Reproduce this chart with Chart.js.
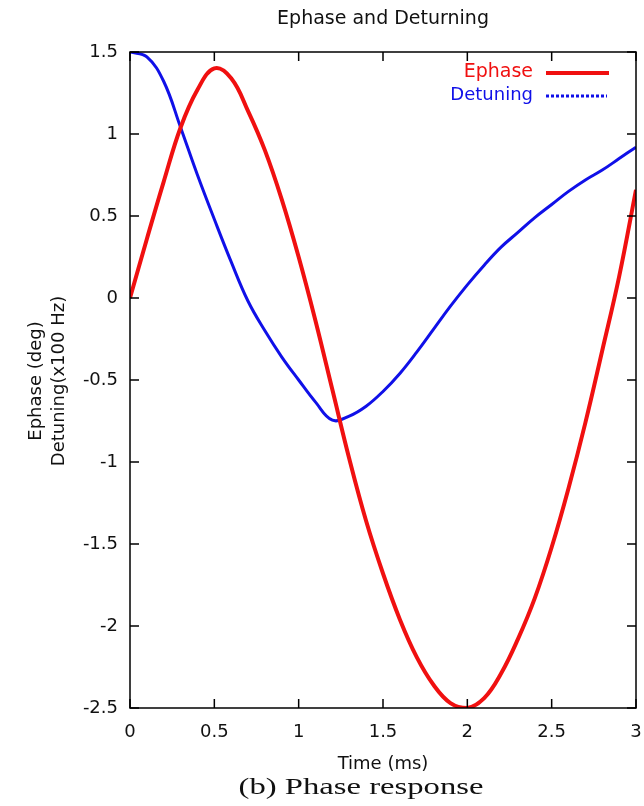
<!DOCTYPE html>
<html>
<head>
<meta charset="utf-8">
<script src="https://cdn.jsdelivr.net/npm/chart.js@4.4.1/dist/chart.umd.min.js"></script>
<style>
  html, body { margin: 0; padding: 0; background: #fff; }
  #wrap { position: relative; width: 644px; height: 806px; }
  canvas { position: absolute; left: 0; top: 0; }
  #caption { position: absolute; left: 161px; width: 400px; top: 774px; text-align: center;
    font-family: "Liberation Serif", serif; font-size: 23px; color: #111;
    transform: scaleX(1.42); transform-origin: 200px 0; }
</style>
</head>
<body>
<div id="wrap">
  <canvas id="c" width="644" height="806"></canvas>
  <div id="caption">(b) Phase response</div>
</div>
<script>
// ---- data ----
const times    = [0,0.1,0.2,0.3,0.4,0.5,0.6,0.7,0.8,0.9,1.0,1.1,1.2,1.3,1.4,1.5,1.6,1.7,1.8,1.9,2.0,2.1,2.2,2.3,2.4,2.5,2.6,2.7,2.8,2.9,3.0];
const ephase   = [0,0.36,0.71,1.04,1.27,1.40,1.34,1.14,0.90,0.60,0.25,-0.14,-0.56,-0.98,-1.36,-1.68,-1.96,-2.19,-2.36,-2.47,-2.5,-2.44,-2.29,-2.08,-1.83,-1.52,-1.16,-0.76,-0.32,0.13,0.66];
const detuning = [1.5,1.47,1.32,1.04,0.75,0.48,0.22,-0.02,-0.20,-0.36,-0.50,-0.635,-0.745,-0.72,-0.66,-0.57,-0.46,-0.33,-0.19,-0.05,0.08,0.2,0.31,0.4,0.49,0.57,0.65,0.72,0.78,0.85,0.92];
const xTicks = [0,0.5,1,1.5,2,2.5,3];
const xTickLabels = ["0","0.5","1","1.5","2","2.5","3"];
const yTicks = [-2.5,-2,-1.5,-1,-0.5,0,0.5,1,1.5];
const yTickLabels = ["-2.5","-2","-1.5","-1","-0.5","0","0.5","1","1.5"];
const chartTitle = "Ephase and Deturning";
const xTitle = "Time (ms)";
const yTitles = ["Ephase (deg)", "Detuning(x100 Hz)"];
const seriesNames = ["Ephase", "Detuning"];

const FONT = '"DejaVu Sans", sans-serif';
const RED = '#f01010';
const BLUE = '#1010e8';

const decor = {
  id: 'decor',
  afterDraw(chart) {
    const ctx = chart.ctx;
    const a = chart.chartArea;
    const xs = chart.scales.x, ys = chart.scales.y;
    ctx.save();
    ctx.strokeStyle = '#000';
    ctx.lineWidth = 1.5;
    ctx.strokeRect(a.left, a.top, a.right - a.left, a.bottom - a.top);
    const tl = 9;
    ctx.beginPath();
    xTicks.forEach(v => {
      const px = xs.getPixelForValue(v);
      ctx.moveTo(px, a.bottom); ctx.lineTo(px, a.bottom - tl);
      ctx.moveTo(px, a.top); ctx.lineTo(px, a.top + tl);
    });
    yTicks.forEach(v => {
      const py = ys.getPixelForValue(v);
      ctx.moveTo(a.left, py); ctx.lineTo(a.left + tl, py);
      ctx.moveTo(a.right, py); ctx.lineTo(a.right - tl, py);
    });
    ctx.stroke();

    ctx.fillStyle = '#111';
    ctx.textAlign = 'center';
    ctx.textBaseline = 'middle';
    const cx = (a.left + a.right) / 2;
    ctx.font = '19px ' + FONT;
    ctx.fillText(chartTitle, cx, 19);
    ctx.font = '18px ' + FONT;
    ctx.fillText(xTitle, cx, 764);

    ctx.save();
    ctx.translate(36, 381);
    ctx.rotate(-Math.PI / 2);
    ctx.fillText(yTitles[0], 0, 0);
    ctx.restore();
    ctx.save();
    ctx.translate(59, 381);
    ctx.rotate(-Math.PI / 2);
    ctx.fillText(yTitles[1], 0, 0);
    ctx.restore();

    // legend
    ctx.textAlign = 'right';
    ctx.font = '19px ' + FONT;
    ctx.fillStyle = RED;
    ctx.fillText(seriesNames[0], 533, 72);
    ctx.font = '18px ' + FONT;
    ctx.fillStyle = BLUE;
    ctx.fillText(seriesNames[1], 533, 95);
    ctx.lineWidth = 4;
    ctx.strokeStyle = RED;
    ctx.beginPath(); ctx.moveTo(546, 73); ctx.lineTo(609, 73); ctx.stroke();
    ctx.lineWidth = 3;
    ctx.strokeStyle = BLUE;
    ctx.setLineDash([3, 2]);
    ctx.beginPath(); ctx.moveTo(546, 96); ctx.lineTo(607, 96); ctx.stroke();
    ctx.restore();
  }
};

new Chart(document.getElementById('c'), {
  type: 'line',
  data: {
    datasets: [
      { label: seriesNames[0], data: times.map((t, i) => ({x: t, y: ephase[i]})),
        borderColor: RED, borderWidth: 4, pointRadius: 0, tension: 0.4, fill: false, clip: 0 },
      { label: seriesNames[1], data: times.map((t, i) => ({x: t, y: detuning[i]})),
        borderColor: BLUE, borderWidth: 3, pointRadius: 0, tension: 0.4, fill: false, clip: 0 }
    ]
  },
  options: {
    responsive: false,
    animation: false,
    events: [],
    layout: { padding: { left: 0, right: 8, top: 52, bottom: 0 } },
    plugins: { legend: { display: false }, title: { display: false }, tooltip: { enabled: false } },
    scales: {
      x: {
        type: 'linear', min: 0, max: 3,
        afterBuildTicks: s => { s.ticks = xTicks.map(v => ({value: v})); },
        ticks: { font: { family: FONT, size: 18 }, color: '#111', padding: 14, maxRotation: 0,
                 callback: (v, i) => xTickLabels[i] },
        grid: { display: false, drawTicks: false },
        border: { display: false },
        afterFit: s => { s.height = 98; s.paddingLeft = 0; s.paddingRight = 0; }
      },
      y: {
        type: 'linear', min: -2.5, max: 1.5,
        afterBuildTicks: s => { s.ticks = yTicks.map(v => ({value: v})); },
        ticks: { font: { family: FONT, size: 18 }, color: '#111', padding: 12,
                 callback: (v, i) => yTickLabels[i] },
        grid: { display: false, drawTicks: false },
        border: { display: false },
        afterFit: s => { s.width = 130; s.paddingTop = 0; s.paddingBottom = 0; }
      }
    }
  },
  plugins: [decor]
});
</script>
</body>
</html>
